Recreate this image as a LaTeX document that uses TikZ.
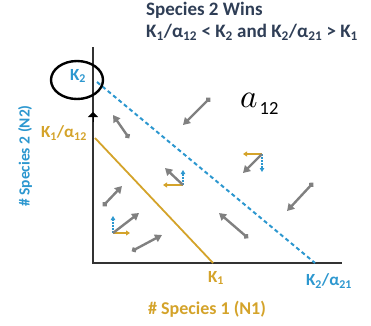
\documentclass[tikz,border=0pt]{standalone}
\usepackage{fontspec}
\setmainfont{Carlito}
\usetikzlibrary{arrows.meta,positioning}
\definecolor{titlenavy}{HTML}{2F3E56}
\definecolor{nblue}{HTML}{2C97CF}
\definecolor{ngold}{HTML}{D4A32A}
\definecolor{vgray}{HTML}{808080}
\newcommand{\Kn}[1]{K\textsubscript{#1}}
\newcommand{\alp}[1]{α\textsubscript{#1}}

\begin{document}
\begin{tikzpicture}[x=1pt, y=-1pt, >=Stealth,
    flow/.style={vgray, line width=2.4pt, {Circle[length=5pt]}-{Triangle[length=7pt,width=8pt]}},
    sumflow/.style={vgray, line width=2.4pt, -{Triangle[length=7pt,width=8pt]}},
    goldflow/.style={ngold, line width=2.2pt, -{Triangle[length=4pt,width=5pt]}},
    blueflow/.style={nblue, line width=1.3pt, dash pattern=on 2pt off 1pt, -{Triangle[length=4pt,width=4.5pt]}},
    goldtext/.style={ngold, font=\bfseries\fontsize{17}{19}\selectfont, inner sep=1pt},
    bluetext/.style={nblue, font=\bfseries\fontsize{17}{19}\selectfont, inner sep=1pt}]
    \useasboundingbox (0,0) rectangle (371,325);

    % Key points of the isoclines and axes
    \coordinate (O) at (93,263);
    \coordinate (ytop) at (93,47);
    \coordinate (xend) at (342,263);
    \coordinate (ytip) at (93,112);
    \coordinate (Kone) at (213,263);
    \coordinate (Kaone) at (95,138);
    \coordinate (Ktwo) at (97,82);
    \coordinate (Kbtwo) at (315,263);

    % Title
    \node[anchor=north west, align=left, text=titlenavy, inner sep=0pt,
          font=\bfseries\fontsize{19}{22}\selectfont] (title) at (146,2)
        {Species 2 Wins\\ \Kn{1}/\alp{12} < \Kn{2} and \Kn{2}/\alp{21} > \Kn{1}};

    % Axes
    \draw[line width=2pt, black!80] (ytop) -- (O) -- (xend);
    \draw[black, line width=1pt, -{Triangle[length=5pt,width=10pt]}] (93,122) -- (ytip);

    % Isoclines
    \draw[ngold, line width=1.8pt] (Kaone) -- (Kone);
    \draw[nblue, line width=2pt, dash pattern=on 4pt off 3pt] (Ktwo) -- (Kbtwo);

    % Intercept labels
    \node[goldtext, anchor=east] (lblKa) at (88,133) {\Kn{1}/\alp{12}};
    \node[goldtext] (lblK1) at (216,278) {\Kn{1}};
    \node[bluetext] (lblKb) at (329,281) {\Kn{2}/\alp{21}};
    \node[bluetext] (lblK2) at (78,76) {\Kn{2}};
    \draw[black, line width=2.4pt] (77,80) ellipse [x radius=26pt, y radius=19pt];

    % Axis titles
    \node[goldtext, font=\bfseries\fontsize{18}{20}\selectfont] (xlab) at (207,309) {\# Species 1 (N1)};
    \node[bluetext, font=\bfseries\fontsize{15.5}{17}\selectfont, rotate=90] (ylab) at (25,156) {\# Species 2 (N2)};

    % Population trajectories
    \foreach \sx/\sy/\ex/\ey in {129/138/113/115, 210/98/183/125, 313/183/287/211,
                                 248/238/219/213, 103/206/122/186, 132/251/162/235}
        \draw[flow] (\sx,\sy) -- (\ex,\ey);

    % Component vectors
    \foreach \jx/\jy/\gx/\gy/\yx/\bx in {183/185/165/168/163/170, 262/154/243/173/243/172,
                                         113/233/139/213/130/216}{
        \draw[goldflow] (\jx,\jy) -- (\yx,\jy);
        \draw[blueflow] (\jx,\jy) -- (\jx,\bx);
        \draw[sumflow] (\jx,\jy) -- (\gx,\gy);
    }

    % Competition coefficient
    \node[inner sep=0pt, anchor=base west] (coef) at (240,107)
        {\scalebox{3.3}{$a$}\hspace{2pt}\raisebox{-7pt}{\scalebox{1.85}{$\mathrm{12}$}}};
\end{tikzpicture}
\end{document}
